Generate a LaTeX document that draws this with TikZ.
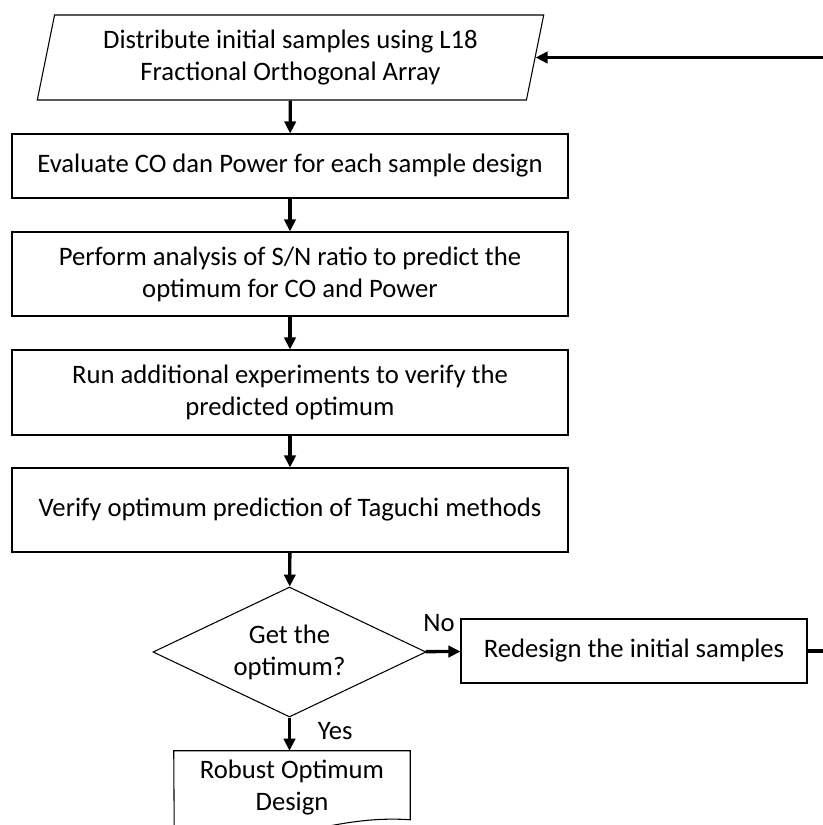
\documentclass[tikz,border=0pt]{standalone}
\usepackage{fontspec}
\setmainfont{Carlito}
\usetikzlibrary{shapes.geometric,arrows.meta}

\begin{document}
\begin{tikzpicture}[x=0.75pt,y=-0.75pt,
  font=\fontsize{20}{24}\selectfont,
  box/.style={draw,line width=0.8pt,align=center,minimum width=417pt,inner sep=0pt},
  flow/.style={line width=2.5pt,-{Triangle[length=9pt,width=8.5pt]}}]
\useasboundingbox (0,0) rectangle (823,825);
\node[trapezium,trapezium left angle=76,trapezium right angle=104,trapezium stretches=true,
  draw,line width=0.8pt,minimum width=380.25pt,minimum height=63.75pt,align=center,inner sep=0pt]
  (init) at (290.5,57.5) {Distribute initial samples using L18\\Fractional Orthogonal Array};
\node[box,minimum height=48pt] (eval) at (290,166) {Evaluate CO dan Power for each sample design};
\node[box,minimum height=63pt] (snr) at (290,274) {Perform analysis of S/N ratio to predict the\\optimum for CO and Power};
\node[box,minimum height=63.75pt] (run) at (290,392.5) {Run additional experiments to verify the\\predicted optimum};
\node[box,minimum height=63pt] (verify) at (290,510) {Verify optimum prediction of Taguchi methods};
\node[diamond,draw,line width=0.8pt,aspect=2.1,minimum width=204.75pt,minimum height=97.5pt,
  align=center,inner sep=0pt] (check) at (289.5,652) {Get the\\optimum?};
\node[box,minimum width=259.5pt,minimum height=48pt] (redesign) at (634,651) {Redesign the initial samples};
\node[align=center,minimum width=177pt,minimum height=55.5pt,inner sep=0pt] (robust) at (292,788) {Robust Optimum\\Design};
\draw[line width=0.8pt] (robust.north west) -- (robust.north east) -- ++(0,69)
  .. controls +(-45,-3) and +(38,-8) .. ++(-118,14)
  .. controls +(-42,9) and +(36,6) .. ++(-118,6) -- cycle;
\draw[flow] (init) -- (eval);
\draw[flow] (eval) -- (snr);
\draw[flow] (snr) -- (run);
\draw[flow] (run) -- (verify);
\draw[flow] (verify) -- (check);
\draw[flow] (check) -- (redesign)
  node[at start,anchor=south west,inner sep=0pt,xshift=-3pt,yshift=14pt] (no) {No};
\draw[flow] (check.south) -- (check.south |- robust.north)
  node[at start,anchor=base west,inner sep=0pt,xshift=20pt,yshift=-16.5pt] (yes) {Yes};
\draw[flow] (redesign.east) -- ++(25,0) |- (init);
\end{tikzpicture}
\end{document}
